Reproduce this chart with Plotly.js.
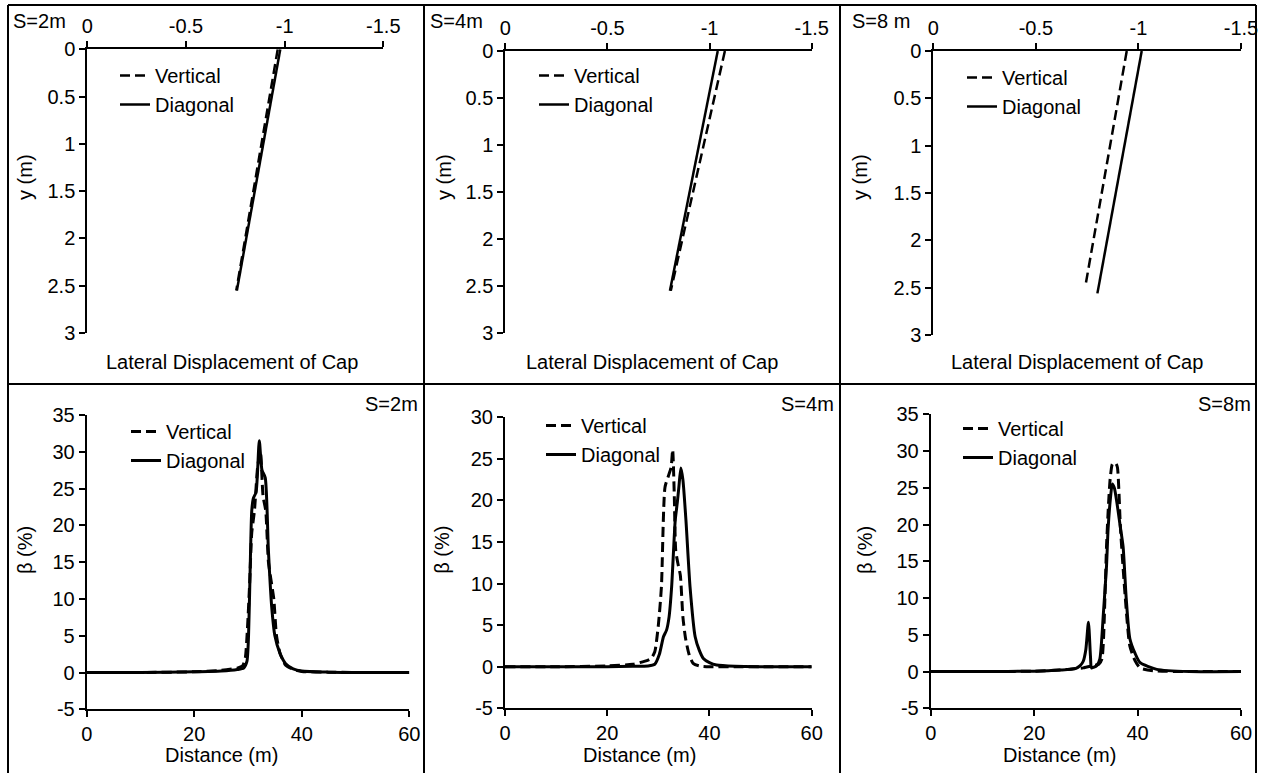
<!DOCTYPE html>
<html>
<head>
<meta charset="utf-8">
<script src="https://cdn.plot.ly/plotly-3.0.1.min.js"></script>
<style>
html,body{margin:0;padding:0;background:#fff;}
#chart{width:1263px;height:773px;}
</style>
</head>
<body>
<div id="chart"></div>
<script>
// ---------------- DATA ----------------
// Top row: lateral displacement of cap (x) vs depth y (m)
const seriesNames = ['Vertical', 'Diagonal'];
const spacingLabels = ['S=2m', 'S=4m', 'S=8 m'];
const spacingLabelsBottom = ['S=2m', 'S=4m', 'S=8m'];

const depthVertS2 = [0, 2.55];
const dispVertS2  = [-0.965, -0.755];
const depthDiagS2 = [0, 2.55];
const dispDiagS2  = [-0.978, -0.758];

const depthVertS4 = [0, 2.55];
const dispVertS4  = [-1.075, -0.81];
const depthDiagS4 = [0, 2.55];
const dispDiagS4  = [-1.04, -0.806];

const depthVertS8 = [0, 2.45];
const dispVertS8  = [-0.943, -0.744];
const depthDiagS8 = [0, 2.56];
const dispDiagS8  = [-1.016, -0.80];

const dispTickVals = [0, -0.5, -1, -1.5];
const dispTickText = ['0', '-0.5', '-1', '-1.5'];
const depthTickVals = [0, 0.5, 1, 1.5, 2, 2.5, 3];
const depthTickText = ['0', '0.5', '1', '1.5', '2', '2.5', '3'];

// Bottom row: beta (%) vs distance (m)
const distVertS2 = [0,10,20,25,28,29,29.5,29.9,30.3,30.7,31.2,31.8,32.3,32.8,33.3,33.8,34.4,34.8,35.3,36,37,38.5,40,45,50,60];
const betaVertS2 = [0,0,0.1,0.3,0.6,0.9,2,6,12,19,22,28,30,24,22,15,12,10,5,2.5,1,0.4,0.15,0.05,0,0];
const distDiagS2 = [0,10,20,25,28,29.2,29.8,30.1,30.4,30.7,31.0,31.5,32.1,32.6,33.2,33.8,34.4,35.0,35.9,37.0,38.4,40,45,50,60];
const betaDiagS2 = [0,0,0.1,0.2,0.4,0.6,1.5,5,14,22,23.7,24.5,31.5,27.5,26.5,16.5,9,5,2.7,1.2,0.5,0.2,0.05,0,0];

const distVertS4 = [0,10,20,25,28,28.6,29.3,30.0,30.6,31.3,32.0,32.5,32.8,33.1,33.4,33.8,34.3,34.8,35.3,36.0,36.8,38,40,45,50,60];
const betaVertS4 = [0,0,0.1,0.3,0.8,1.0,1.8,5,9.6,21.6,23,24,26.1,21,14,12.5,11,6,3.5,1.5,0.4,0.1,0,0,0,0];
const distDiagS4 = [0,10,20,25,28,29.3,30.2,31.0,31.6,32.1,32.6,33.3,33.7,34.0,34.4,34.8,35.4,36.2,37.2,38.0,38.8,40,41.4,45,50,60];
const betaDiagS4 = [0,0,0,0.05,0.1,0.3,1.5,3.6,4.4,6,9.6,17.6,19.7,21.5,23.9,22.5,17.6,9.6,3.6,2,1.0,0.5,0.2,0.05,0,0];

const distVertS8 = [0,10,20,25,28,29.5,31.4,32.5,33.1,33.7,34.0,34.4,34.7,35.1,35.4,35.8,36.1,36.7,37.6,38.5,39.5,40.5,43,50,60];
const betaVertS8 = [0,0,0.05,0.2,0.4,0.5,0.8,1.0,1.7,10.3,17.1,23,26.2,28.2,28.4,28.3,27.8,19.4,10.3,3.5,1.5,0.5,0.1,0,0];
const distDiagS8 = [0,10,20,25,28,28.9,29.5,30.0,30.5,30.9,31.1,32.1,32.7,33.4,34.0,34.3,34.8,35.1,35.5,36.0,36.6,37.2,37.8,38.5,39.5,40.5,43.7,50,60];
const betaDiagS8 = [0,0,0.05,0.2,0.4,0.8,1.4,3,6.7,2,0.5,0.8,1.7,8,14.4,19.4,23.9,25.5,25,23,20,17,10,4.5,2.5,1.2,0.3,0,0];

const distTickVals = [0, 20, 40, 60];
const distTickText = ['0', '20', '40', '60'];
const betaTickVals35 = [-5, 0, 5, 10, 15, 20, 25, 30, 35];
const betaTickText35 = ['-5', '0', '5', '10', '15', '20', '25', '30', '35'];
const betaTickVals30 = [-5, 0, 5, 10, 15, 20, 25, 30];
const betaTickText30 = ['-5', '0', '5', '10', '15', '20', '25', '30'];

// ---------------- LAYOUT HELPERS ----------------
const W = 1263, H = 773;
const fx = p => p / W;
const fy = p => 1 - p / H;
const FONT = {family: '"Liberation Sans", Arial, Helvetica, sans-serif', size: 20, color: '#000'};
const DASH = '10px,5px';

const axBase = {
  showline: true, linecolor: '#000', linewidth: 2,
  ticks: 'outside', ticklen: 6, tickwidth: 2, tickcolor: '#000',
  showgrid: false, zeroline: false, tickfont: FONT, fixedrange: true, tickmode: 'array'
};

// panel pixel boxes [x0,x1],[ytop,ybottom]
const boxes = [
  {x: [87.3, 383.3], y: [49.3, 333]},
  {x: [505.3, 811.7], y: [51, 333]},
  {x: [933.3, 1241], y: [51, 335]},
  {x: [86.7, 409.3], y: [415, 709.3]},
  {x: [505, 811.7], y: [417.3, 708.3]},
  {x: [930.7, 1241], y: [414.3, 708.3]}
];
const dom = b => ({x: [fx(b.x[0]), fx(b.x[1])], y: [fy(b.y[1]), fy(b.y[0])]});

const layout = {
  width: W, height: H,
  margin: {l: 0, r: 0, t: 0, b: 0, pad: 0},
  paper_bgcolor: '#fff', plot_bgcolor: 'rgba(0,0,0,0)',
  font: FONT,
  showlegend: true,
  annotations: [], shapes: []
};

const topDisp = [[dispVertS2, depthVertS2, dispDiagS2, depthDiagS2],
                 [dispVertS4, depthVertS4, dispDiagS4, depthDiagS4],
                 [dispVertS8, depthVertS8, dispDiagS8, depthDiagS8]];
const botBeta = [[distVertS2, betaVertS2, distDiagS2, betaDiagS2],
                 [distVertS4, betaVertS4, distDiagS4, betaDiagS4],
                 [distVertS8, betaVertS8, distDiagS8, betaDiagS8]];

const legendPos = [[115, 56], [534, 56], [962, 58], [126, 412], [541, 406], [958, 409]];
const traces = [];

for (let i = 0; i < 6; i++) {
  const n = i + 1;
  const xa = n === 1 ? 'xaxis' : 'xaxis' + n;
  const ya = n === 1 ? 'yaxis' : 'yaxis' + n;
  const xr = n === 1 ? 'x' : 'x' + n;
  const yr = n === 1 ? 'y' : 'y' + n;
  const lg = n === 1 ? 'legend' : 'legend' + n;
  const d = dom(boxes[i]);
  const isTop = i < 3;
  if (isTop) {
    layout[xa] = Object.assign({}, axBase, {domain: d.x, anchor: yr, side: 'top', range: [0, -1.5],
      tickvals: dispTickVals, ticktext: dispTickText});
    layout[ya] = Object.assign({}, axBase, {domain: d.y, anchor: xr, range: [3, 0],
      tickvals: depthTickVals, ticktext: depthTickText});
    const s = topDisp[i];
    traces.push({x: s[0], y: s[1], xaxis: xr, yaxis: yr, mode: 'lines', name: seriesNames[0],
      legend: lg, legendgroup: 'v' + n, line: {color: '#000', width: 2.5, dash: DASH}});
    traces.push({x: s[2], y: s[3], xaxis: xr, yaxis: yr, mode: 'lines', name: seriesNames[1],
      legend: lg, legendgroup: 'd' + n, line: {color: '#000', width: 2.5}});
  } else {
    const j = i - 3;
    layout[xa] = Object.assign({}, axBase, {domain: d.x, anchor: yr, side: 'bottom', range: [0, 60],
      tickvals: distTickVals, ticktext: distTickText});
    layout[ya] = Object.assign({}, axBase, {domain: d.y, anchor: xr,
      range: j === 1 ? [-5, 30] : [-5, 35],
      tickvals: j === 1 ? betaTickVals30 : betaTickVals35,
      ticktext: j === 1 ? betaTickText30 : betaTickText35});
    const s = botBeta[j];
    traces.push({x: s[0], y: s[1], xaxis: xr, yaxis: yr, mode: 'lines', name: seriesNames[0],
      legend: lg, legendgroup: 'v' + n, line: {color: '#000', width: 3, dash: DASH, shape: 'spline', smoothing: 0.6}});
    traces.push({x: s[2], y: s[3], xaxis: xr, yaxis: yr, mode: 'lines', name: seriesNames[1],
      legend: lg, legendgroup: 'd' + n, line: {color: '#000', width: 3, shape: 'spline', smoothing: 0.6}});
  }
  layout[lg] = {x: fx(legendPos[i][0]), y: fy(legendPos[i][1]), xanchor: 'left', yanchor: 'top',
    xref: 'paper', yref: 'paper', bgcolor: 'rgba(0,0,0,0)', borderwidth: 0,
    font: FONT, traceorder: 'grouped', tracegroupgap: 0, itemwidth: 30};
}

// ---------------- TEXT ----------------
function ann(text, px, py, angle) {
  layout.annotations.push({text: text, x: fx(px), y: fy(py), xref: 'paper', yref: 'paper',
    xanchor: 'center', yanchor: 'middle', showarrow: false, font: FONT, textangle: angle || 0});
}
[[25, 177], [444, 177], [860, 177]].forEach(p => ann('y (m)', p[0], p[1], -90));
[[232, 362], [651.7, 362], [1076.7, 362]].forEach(p => ann('Lateral Displacement of Cap', p[0], p[1]));
[[25, 550], [441.7, 550], [865, 550]].forEach(p => ann('β (%)', p[0], p[1], -90));
[[221, 755], [640, 755], [1059, 755]].forEach(p => ann('Distance (m)', p[0], p[1]));
[[39, 21], [456, 21], [881, 21]].forEach((p, k) => ann(spacingLabels[k], p[0], p[1]));
[[391, 404], [807.5, 404], [1224, 404]].forEach((p, k) => ann(spacingLabelsBottom[k], p[0], p[1]));

// ---------------- PANEL FRAME ----------------
function seg(x0, y0, x1, y1) {
  layout.shapes.push({type: 'line', xref: 'paper', yref: 'paper',
    x0: fx(x0), y0: fy(y0), x1: fx(x1), y1: fy(y1), line: {color: '#000', width: 2}});
}
seg(8, 5, 1256, 5);
seg(8, 5, 8, 773);
seg(1256, 5, 1256, 773);
seg(424, 5, 424, 773);
seg(840, 5, 840, 773);
seg(8, 384, 1256, 384);

Plotly.newPlot('chart', traces, layout, {displayModeBar: false, staticPlot: true});
</script>
</body>
</html>
